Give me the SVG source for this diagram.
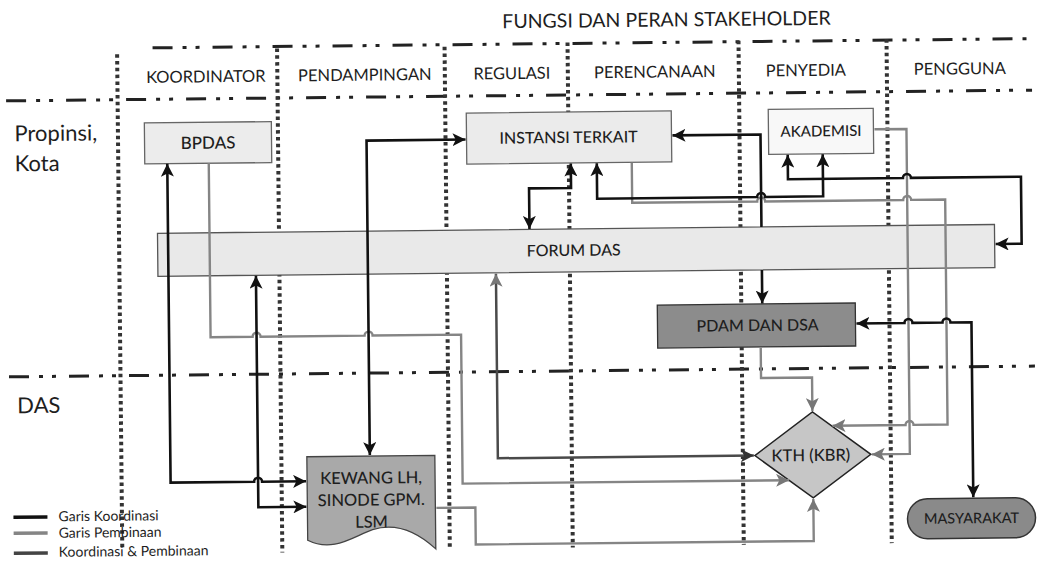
<svg xmlns="http://www.w3.org/2000/svg" width="1037" height="564" viewBox="0 0 1037 564">
<style>
text{font-family:Lato,"Liberation Sans",sans-serif;fill:#1e1e1e}
.hdr{font-size:16.5px;text-anchor:middle}
.row{font-size:22px}
.lbl{font-size:16px;text-anchor:middle;font-weight:500}
.leg{font-size:14px}
.dd{stroke:#222;stroke-width:3;fill:none;stroke-dasharray:20 10 4 9 4 13}
.dot{stroke:#333;stroke-width:4;fill:none;stroke-dasharray:3.5 3.3}
.k{stroke:#111;stroke-width:2.6;fill:none;marker-start:url(#ak);marker-end:url(#ak)}
.p{stroke:#858585;stroke-width:2.4;fill:none;marker-end:url(#ap)}
.kp{stroke:#4a4a4a;stroke-width:2.5;fill:none;marker-start:url(#ap);marker-end:url(#ad)}
</style>
<defs>
<marker id="ak" viewBox="0 0 10 10" refX="10" refY="5" markerWidth="13" markerHeight="13" markerUnits="userSpaceOnUse" orient="auto-start-reverse"><path d="M0,0 L10,5 L0,10 L2.5,5 z" fill="#111"/></marker>
<marker id="ap" viewBox="0 0 10 10" refX="10" refY="5" markerWidth="13" markerHeight="13" markerUnits="userSpaceOnUse" orient="auto-start-reverse"><path d="M0,0 L10,5 L0,10 L2.5,5 z" fill="#777"/></marker>
<marker id="ad" viewBox="0 0 10 10" refX="10" refY="5" markerWidth="13" markerHeight="13" markerUnits="userSpaceOnUse" orient="auto-start-reverse"><path d="M0,0 L10,5 L0,10 L2.5,5 z" fill="#333"/></marker>
</defs>
<rect width="1037" height="564" fill="#fff"/>
<g transform="rotate(-0.6 520 280)">
<g id="grid">
<text x="505" y="28" style="font-size:19.5px">FUNGSI DAN PERAN STAKEHOLDER</text>
<line class="dd" x1="155" y1="44" x2="1034" y2="44"/>
<line class="dd" x1="8" y1="95.5" x2="1034" y2="95.5"/>
<line class="dd" x1="8" y1="371.5" x2="1034" y2="371.5"/>
<line class="dot" x1="119.5" y1="50" x2="119.5" y2="545"/>
<line class="dot" x1="279.5" y1="46" x2="279.5" y2="550"/>
<line class="dot" x1="447" y1="46" x2="447" y2="547"/>
<line class="dot" x1="570" y1="43" x2="570" y2="548"/>
<line class="dot" x1="741" y1="43" x2="741" y2="547"/>
<line class="dot" x1="889" y1="43" x2="889" y2="547"/>
<text class="hdr" x="208" y="79">KOORDINATOR</text>
<text class="hdr" x="367" y="79">PENDAMPINGAN</text>
<text class="hdr" x="514" y="79">REGULASI</text>
<text class="hdr" x="657" y="79">PERENCANAAN</text>
<text class="hdr" x="808" y="79">PENYEDIA</text>
<text class="hdr" x="962" y="79">PENGGUNA</text>
<text class="row" x="16" y="136">Propinsi,</text>
<text class="row" x="16" y="166">Kota</text>
<text class="row" x="16" y="408">DAS</text>
</g>
<g id="legend">
<line x1="11" y1="512" x2="45" y2="512" stroke="#111" stroke-width="3.5"/>
<line x1="11" y1="528" x2="45" y2="528" stroke="#858585" stroke-width="3.5"/>
<line x1="11" y1="548" x2="45" y2="548" stroke="#444" stroke-width="3.5"/>
<text class="leg" x="56" y="516.5">Garis Koordinasi</text>
<text class="leg" x="56" y="533">Garis Pembinaan</text>
<text class="leg" x="56" y="552">Koordinasi &amp; Pembinaan</text>
</g>
<g id="bpdas"><rect x="146" y="119" width="127" height="41" fill="#ececec" stroke="#666" stroke-width="1.3"/><text class="lbl" x="209.5" y="145.5" style="font-size:17px">BPDAS</text></g>
<g id="instansi"><rect x="468" y="112.5" width="205" height="51" fill="#ebebeb" stroke="#666" stroke-width="1.3"/><text class="lbl" x="570" y="143.5">INSTANSI TERKAIT</text></g>
<g id="akademisi"><rect x="770" y="112" width="105" height="45" fill="#f8f8f8" stroke="#666" stroke-width="1.3"/><text class="lbl" x="822.5" y="139.5" style="font-size:15px">AKADEMISI</text></g>
<g id="forum"><rect x="158" y="229.5" width="837" height="43" fill="#e9e9e9" stroke="#555" stroke-width="1.3"/><text class="lbl" x="574" y="256.5">FORUM DAS</text></g>
<g id="pdam"><rect x="657" y="306.5" width="198" height="43" fill="#8c8c8c" stroke="#333" stroke-width="1.3"/><text class="lbl" x="757" y="333.5">PDAM DAN DSA</text></g>
<g id="kth"><polygon points="753,458 811,415 869,458 811,501" fill="#c6c6c6" stroke="#222" stroke-width="1.5"/><text class="lbl" x="809" y="464" style="font-size:16.5px">KTH (KBR)</text></g>
<g id="kewang"><path d="M305,454.5 H433 V548 C415,531 393,521 370,528 C350,535 330,551 305,538 Z" fill="#a9a9a9" stroke="#444" stroke-width="1.3"/><text class="lbl" x="369" y="482" style="font-size:16.5px">KEWANG LH,</text><text class="lbl" x="369" y="504" style="font-size:16.5px">SINODE GPM.</text><text class="lbl" x="369" y="526" style="font-size:16.5px">LSM</text></g>
<g id="masyarakat"><rect x="905" y="503" width="128" height="40" rx="20" fill="#8a8a8a" stroke="#333" stroke-width="1.5"/><text class="lbl" x="969" y="528" style="font-size:14.5px">MASYARAKAT</text></g>
<g id="connectors">
<path class="p" d="M210,160 V334 H252 a4,4 0 0 1 8,0 H364 a4,4 0 0 1 8,0 H460.5 V483 H787"/>
<path class="p" d="M434,507 H473 V544 H811 V502"/>
<path class="p" d="M760,350 V380.5 H811 V414"/>
<path class="p" d="M633,164 V204 H758 a4,4 0 0 1 8,0 H904 a4,4 0 0 1 8,0 H946 V429 H912 a4,4 0 0 0 -8,0 H831"/>
<path class="p" d="M876,133 H908 V458 H870"/>
<path class="kp" d="M496,273.5 V458 H752"/>
<path class="k" d="M168.5,160 V479 H252 a4,4 0 0 1 8,0 H304"/>
<path class="k" d="M256,273 V504.5 H304"/>
<path class="k" d="M368,453.5 V139 H467"/>
<path class="k" d="M572,164 V188.5 H530 V229"/>
<path class="k" d="M598,164 V199.5 H758 a4,4 0 0 1 8,0 H824 V157.5"/>
<path class="k" d="M789,157.5 V182 H904 a4,4 0 0 1 8,0 H1022 V249 H996"/>
<path class="k" d="M674,137 H762 V229.5 M762,272.5 V306"/>
<path class="k" d="M856,327 H904 a4,4 0 0 1 8,0 H942 a4,4 0 0 1 8,0 H971 V502"/>
</g>
</g>
</svg>
